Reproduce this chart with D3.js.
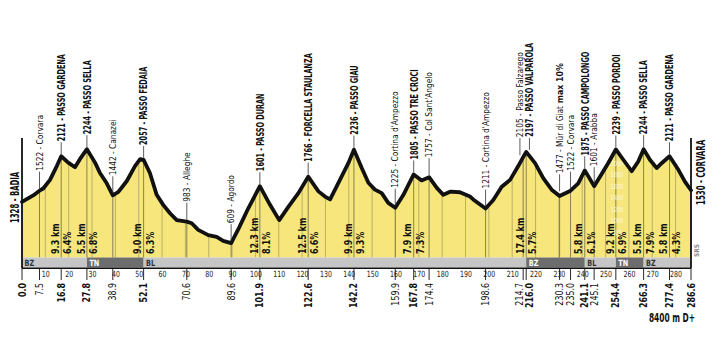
<!DOCTYPE html>
<html><head><meta charset="utf-8">
<script src="https://cdn.jsdelivr.net/npm/d3@7"></script>
<style>
html,body{margin:0;padding:0;background:#fff;}
svg{display:block;}
text{font-family:"Liberation Sans Narrow","Arial Narrow","DejaVu Sans Condensed",sans-serif;}
</style></head><body>
<svg id="chart" width="712" height="353"></svg>
<script>
// ---------- DATA ----------
const profileKm = [0,4.8,7.5,9.1,12,14.9,16.8,19.8,22.7,24.8,27.8,31.3,33.4,36.3,38.9,41.3,44.9,48.4,50.6,52.1,54.8,57.7,60.5,63.4,66.3,70.6,72.7,75.5,79.8,83.4,86.2,89.6,93,97,101.9,106.2,110.2,114.1,118.4,122.6,127,129.8,132,136.2,139.8,142.2,145.5,148.4,151.2,154.1,156.9,159.9,163.4,167.8,171.2,174.4,177.7,180.5,183.4,187.6,191.9,193.3,198.6,201.9,205.5,209.1,212.6,214.7,216.0,219.8,223.3,226.9,230.3,235.0,238.3,241.1,245.1,247.6,251.1,254.4,257.6,261.2,264,266.3,269,271.9,274,277.4,281.2,284,286.6];
const profileElev = [1328,1440,1522,1560,1710,1950,2121,2010,1930,2070,2244,2010,1830,1650,1442,1500,1690,1950,2070,2057,1830,1450,1275,1130,1010,983,955,840,750,720,650,609,880,1220,1601,1280,1010,1240,1480,1766,1510,1420,1370,1710,2000,2236,1920,1660,1540,1480,1310,1225,1450,1805,1700,1757,1570,1450,1505,1495,1420,1370,1211,1360,1590,1710,1950,2105,2197,2000,1740,1540,1430,1522,1650,1875,1601,1765,2000,2239,2060,1860,2030,2244,2060,1915,2000,2121,1885,1680,1530];

const labelKm = [7.5,16.8,27.8,38.9,52.1,70.6,89.6,101.9,122.6,142.2,159.9,167.8,174.4,198.6,214.7,216.0,230.3,235.0,241.1,245.1,254.4,266.3,277.4];
const labelElev = [1522,2121,2244,1442,2057,983,609,1601,1766,2236,1225,1805,1757,1211,2105,2197,1477,1522,1875,1601,2239,2244,2121];
const labelName = ["Corvara","PASSO GARDENA","PASSO SELLA","Canazei","PASSO FEDAIA","Alleghe","Agordo","PASSO DURAN","FORCELLA STAULANZA","PASSO GIAU","Cortina d'Ampezzo","PASSO TRE CROCI","Col Sant'Angelo","Cortina d'Ampezzo","Passo Falzarego","PASSO VALPAROLA","Mür di Giat","Corvara","PASSO CAMPOLONGO","Arabba","PASSO PORDOI","PASSO SELLA","PASSO GARDENA"];
const labelNote = ["","","","","","","","","","","","","","","","","max 10%","","","","","",""];

const climbKm = [16.8,27.8,52.1,101.9,122.6,142.2,167.8,216.0,241.1,254.4,266.3,277.4];
const climbLen = ["9.3 km","5.5 km","9.0 km","12.3 km","12.5 km","9.9 km","7.9 km","17.4 km","5.8 km","9.2 km","5.5 km","5.8 km"];
const climbPct = ["6.4%","6.8%","6.3%","8.1%","6.6%","9.3%","7.3%","5.7%","6.1%","6.9%","7.9%","4.3%"];

const kmMarks = [0.0,7.5,16.8,27.8,38.9,52.1,70.6,89.6,101.9,122.6,142.2,159.9,167.8,174.4,198.6,214.7,216.0,230.3,235.0,241.1,245.1,254.4,266.3,277.4,286.6];
const axisTicks = [10,20,30,40,50,60,70,80,90,100,110,120,130,140,150,160,170,180,190,200,210,220,230,240,250,260,270,280];

const regionStart = [0,27.8,52.1,216.0,241.1,254.4,266.3];
const regionName = ["BZ","TN","BL","BZ","BL","TN","BZ"];

const scaleTicks = [800,1000,1200,1400,1600,1800,2000];

const startLabel = "1328 - BADIA";
const endLabel = "1530 - CORVARA";
const climbTotal = "8400 m D+";
const totalKm = 286.6;

// ---------- CHART ----------
const svg = d3.select("#chart");
const x = d3.scaleLinear().domain([0, totalKm]).range([22, 691]);
const y = d3.scaleLinear().domain([1000, 2000]).range([220.7, 163.2]);
const bandTop = 257.5, bandBot = 267.5, axisY = 268.3;
const pts = profileKm.map((k,i)=>[k, profileElev[i]]);
function elevAt(k){
  for(let i=1;i<pts.length;i++){
    if(k<=pts[i][0]){const a=pts[i-1],b=pts[i];return a[1]+(b[1]-a[1])*(k-a[0])/(b[0]-a[0]);}
  }
  return pts[pts.length-1][1];
}
function spread(xs,minGap){
  const out=xs.slice();
  for(let it=0;it<20;it++){
    for(let i=1;i<out.length;i++){
      const d=out[i]-out[i-1];
      if(d<minGap){const m=(minGap-d)/2;out[i-1]-=m;out[i]+=m;}
    }
  }
  return out;
}

// fill
svg.append("path").datum(pts)
  .attr("d", d3.area().x(d=>x(d[0])).y0(bandTop).y1(d=>y(d[1])))
  .attr("fill","#f6e67c");

// 10 km gridlines
svg.append("g").selectAll("line").data(axisTicks).join("line")
  .attr("x1",d=>x(d)).attr("x2",d=>x(d))
  .attr("y1",d=>y(elevAt(d))).attr("y2",bandTop)
  .attr("stroke","#aca266").attr("stroke-width",0.8);

// km mark lines inside profile
svg.append("g").selectAll("line").data(kmMarks).join("line")
  .attr("x1",d=>x(d)).attr("x2",d=>x(d))
  .attr("y1",d=>y(elevAt(d))).attr("y2",bandTop)
  .attr("stroke","#7d7650").attr("stroke-width",0.9);

// ghost elevation scale
svg.append("g").selectAll("text").data(scaleTicks).join("text")
  .attr("transform", d=>`translate(${x(254.4)+1},${y(d)}) scale(0.8,1)`).attr("dy","0.35em")
  .attr("text-anchor","middle").attr("font-size",7).attr("fill","#fff").attr("opacity",0.75)
  .text(d=>d);

// climb annotations
const cg = svg.append("g").attr("font-weight","bold").attr("font-size",10.5).attr("fill","#111");
climbKm.forEach((k,i)=>{
  cg.append("text").attr("transform",`translate(${x(k)-6},254) rotate(-90) scale(0.85,1)`)
    .attr("dy","0.35em").text(climbLen[i]);
  cg.append("text").attr("transform",`translate(${x(k)+6.5},254) rotate(-90) scale(0.85,1)`)
    .attr("dy","0.35em").text(climbPct[i]);
});

// region band
const regionEnd = regionStart.slice(1).concat([totalKm]);
const bg = svg.append("g");
regionStart.forEach((s,i)=>{
  const dark = i%2===1;
  bg.append("rect").attr("x",x(s)).attr("y",bandTop).attr("width",x(regionEnd[i])-x(s)).attr("height",bandBot-bandTop)
    .attr("fill", dark?"#6d6d6d":"#c6c6c6");
  bg.append("text").attr("transform",`translate(${x(s)+2.5},${(bandTop+bandBot)/2}) scale(0.85,1)`).attr("dy","0.36em")
    .attr("font-size",8.5).attr("font-weight","bold").attr("fill", dark?"#fff":"#333").text(regionName[i]);
});

// axis line
svg.append("line").attr("x1",x(0)).attr("x2",x(totalKm)).attr("y1",axisY).attr("y2",axisY)
  .attr("stroke","#111").attr("stroke-width",1.4);
// vertical edge lines
[0,totalKm].forEach(k=>{
  svg.append("line").attr("x1",x(k)).attr("x2",x(k)).attr("y1",138).attr("y2",axisY)
    .attr("stroke","#111").attr("stroke-width",1.8);
});

// axis numbers
const ax = svg.append("g").attr("transform",`translate(0,${axisY})`)
  .call(d3.axisBottom(x).tickValues(axisTicks).tickSize(0).tickPadding(2.5).tickFormat(d3.format("d")));
ax.select(".domain").remove();
ax.selectAll("text").attr("font-size",8.5).attr("fill","#222").attr("transform","scale(0.82,1)")
  .attr("font-family","'Liberation Sans Narrow','Arial Narrow','DejaVu Sans Condensed',sans-serif");

// km mark ticks and labels
svg.append("g").selectAll("line").data(kmMarks).join("line")
  .attr("x1",d=>x(d)).attr("x2",d=>x(d)).attr("y1",axisY).attr("y2",280)
  .attr("stroke","#111").attr("stroke-width",0.9);
const kmX = spread(kmMarks.map(d=>x(d)), 10.5);
const majorKm = new Set(climbKm.concat([0,totalKm]));
svg.append("g").selectAll("text").data(kmMarks).join("text")
  .attr("transform",(d,i)=>`translate(${kmX[i]},283) rotate(-90) scale(0.88,1)`)
  .attr("dy","0.35em").attr("text-anchor","end")
  .attr("font-size",10).attr("font-weight",d=>majorKm.has(d)?"bold":"normal").attr("fill","#111")
  .text(d=>d.toFixed(1));

// profile line
svg.append("path").datum(pts)
  .attr("d", d3.line().x(d=>x(d[0])).y(d=>y(d[1])))
  .attr("fill","none").attr("stroke","#111").attr("stroke-width",3.8)
  .attr("stroke-linejoin","round").attr("stroke-linecap","round");

// place labels
const lx = spread(labelKm.map(d=>x(d)), 9.5);
const lg = svg.append("g");
labelKm.forEach((k,i)=>{
  const major = labelName[i]===labelName[i].toUpperCase();
  const py = y(labelElev[i]);
  const yb = py - (major?13:18);
  lg.append("line").attr("x1",lx[i]).attr("x2",lx[i]).attr("y1",py-2).attr("y2",yb-1)
    .attr("stroke","#333").attr("stroke-width",0.8);
  const t = lg.append("text")
    .attr("transform",`translate(${lx[i]},${yb-2}) rotate(-90) scale(${major?0.66:0.92},1)`)
    .attr("dy","0.35em").attr("font-size",major?11:9).attr("font-weight",major?"bold":"normal")
    .attr("fill","#111");
  t.append("tspan").text(labelElev[i]+" - "+labelName[i]);
  if(labelNote[i]) t.append("tspan").attr("font-weight","bold").attr("font-size",9.5).text(" "+labelNote[i]);
});

// start / end labels
svg.append("text").attr("transform",`translate(15,223) rotate(-90) scale(0.67,1)`)
  .attr("dy","0.35em").attr("font-size",11.5).attr("font-weight","bold").attr("fill","#111").text(startLabel);
svg.append("text").attr("transform",`translate(701,205) rotate(-90) scale(0.68,1)`)
  .attr("dy","0.35em").attr("font-size",11.5).attr("font-weight","bold").attr("fill","#111").text(endLabel);

// total climb
svg.append("text").attr("transform","translate(695,322) scale(0.72,1)").attr("text-anchor","end")
  .attr("font-size",11.5).attr("font-weight","bold").attr("fill","#111").text(climbTotal);

// credit
svg.append("text").attr("transform",`translate(697,257) rotate(-90)`).attr("dy","0.35em")
  .attr("font-size",6.5).attr("font-weight","bold").attr("fill","#888").text("SRS");
</script>
</body></html>
